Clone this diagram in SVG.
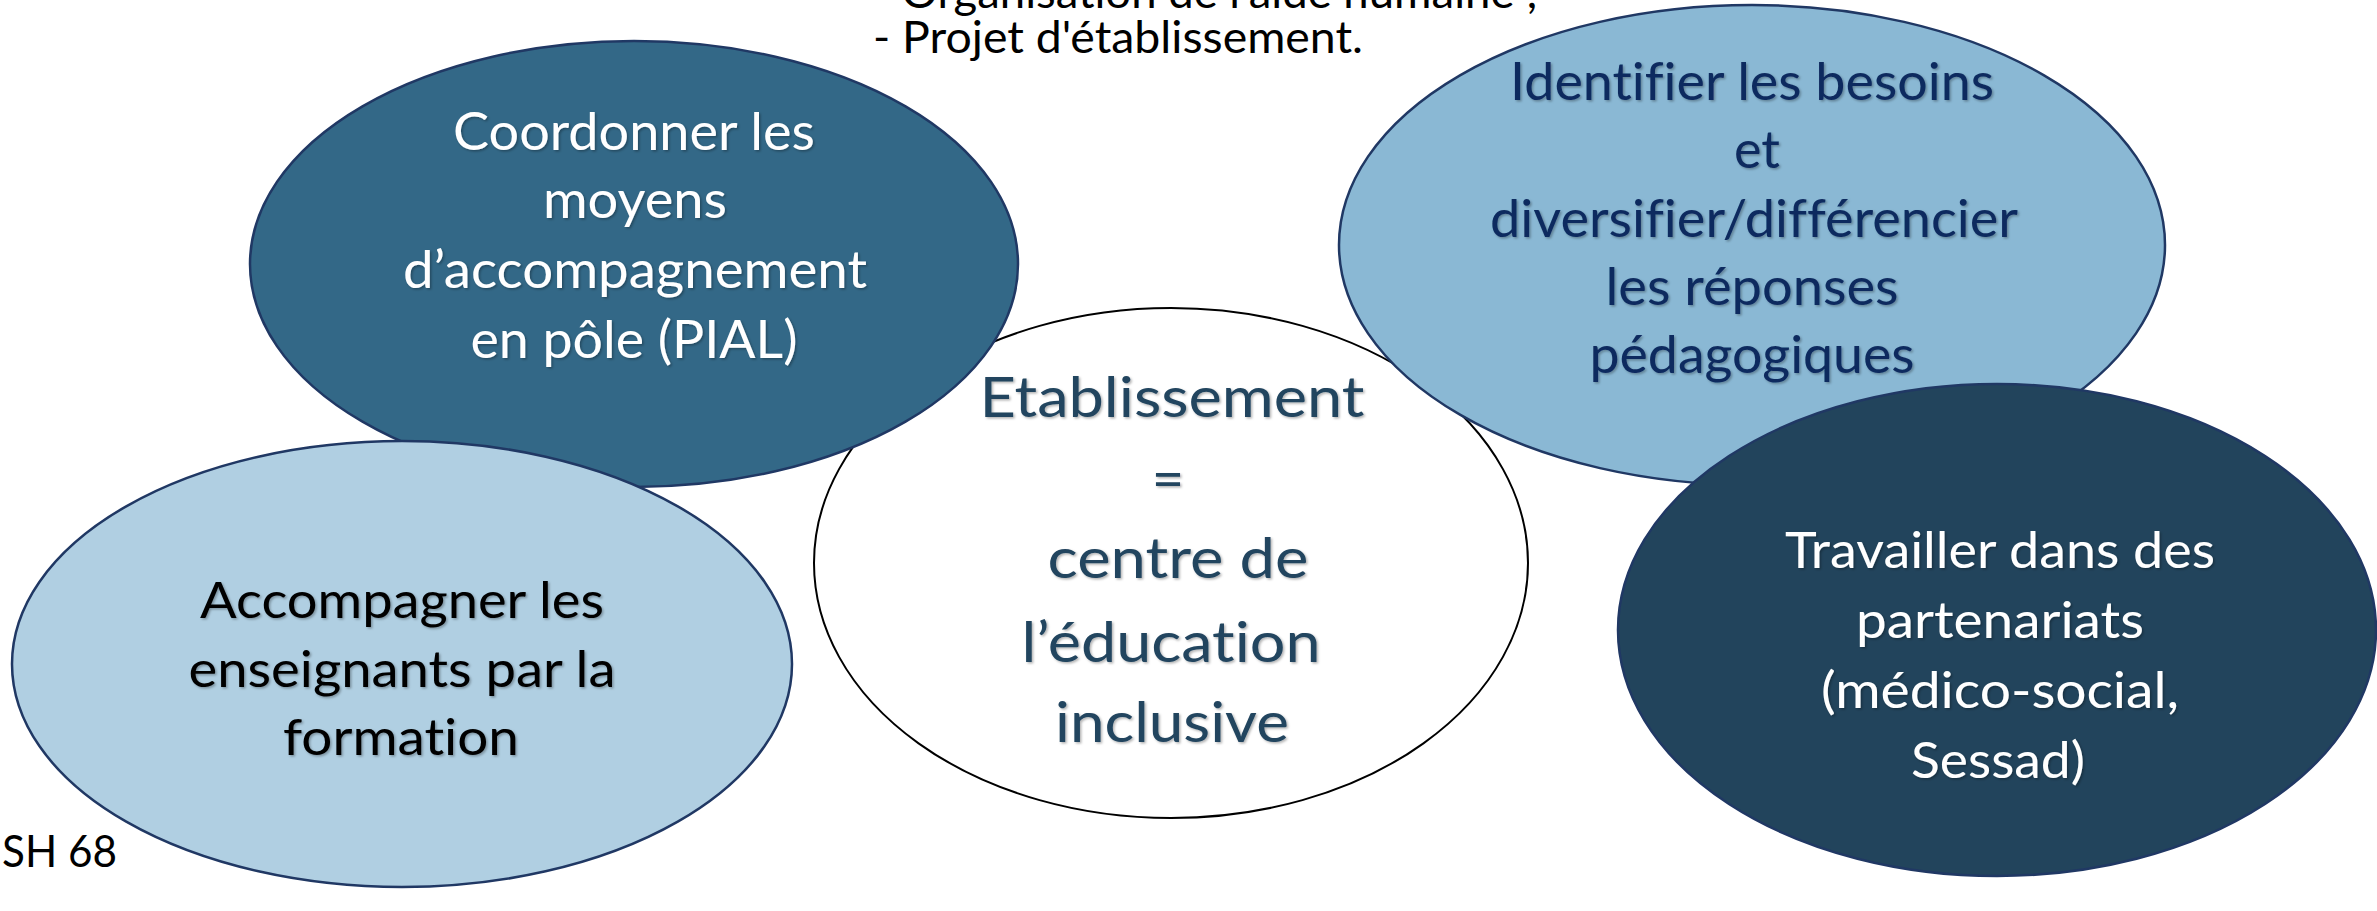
<svg xmlns="http://www.w3.org/2000/svg" width="2377" height="911" viewBox="0 0 2377 911">
<style>
  text { font-family: Lato, "Open Sans", "Liberation Sans", sans-serif; font-variant-ligatures: none; font-feature-settings: "liga" 0, "clig" 0, "dlig" 0; }
  .node-outline { stroke: #203864; stroke-width: 2.5; }
  .c { text-anchor: middle; filter: url(#ts); }
  .t52 { font-size: 52px; }
  .t56 { font-size: 56px; }
  .t50 { font-size: 51px; }
  .plain { font-size: 45px; fill: #000; }
</style>
<defs>
  <filter id="ts" x="-10%" y="-30%" width="120%" height="160%">
    <feDropShadow dx="1.5" dy="1.5" stdDeviation="1.3" flood-color="#000" flood-opacity="0.3"/>
  </filter>
</defs>
<rect width="2377" height="911" fill="#fff"/>

<g id="connectors"></g>

<g id="note">
  <text class="plain" x="873" y="8" textLength="665" lengthAdjust="spacingAndGlyphs">- Organisation de l'aide humaine ;</text>
  <text class="plain" x="873" y="53" textLength="490" lengthAdjust="spacingAndGlyphs">- Projet d'établissement.</text>
</g>

<g id="node-etablissement">
  <ellipse cx="1171" cy="563" rx="357" ry="255" fill="#fff" stroke="#000" stroke-width="2"/>
  <g class="c t56" fill="#21445E">
    <text x="1172" y="417" textLength="385" lengthAdjust="spacingAndGlyphs">Etablissement</text>
    <text x="1168" y="498">=</text>
    <text x="1178" y="578" textLength="261" lengthAdjust="spacingAndGlyphs">centre de</text>
    <text x="1171" y="662" textLength="299" lengthAdjust="spacingAndGlyphs">l’éducation</text>
    <text x="1172" y="742" textLength="234" lengthAdjust="spacingAndGlyphs">inclusive</text>
  </g>
</g>

<g id="node-coordonner">
  <ellipse class="node-outline" cx="634" cy="264" rx="384" ry="223" fill="#336887"/>
  <g class="c t52" fill="#fff">
    <text x="634" y="150" textLength="362" lengthAdjust="spacingAndGlyphs">Coordonner les</text>
    <text x="635" y="218" textLength="184" lengthAdjust="spacingAndGlyphs">moyens</text>
    <text x="635" y="288" textLength="464" lengthAdjust="spacingAndGlyphs">d’accompagnement</text>
    <text x="634" y="358" textLength="327" lengthAdjust="spacingAndGlyphs">en pôle (PIAL)</text>
  </g>
</g>

<g id="node-accompagner">
  <ellipse class="node-outline" cx="402" cy="664" rx="390" ry="223" fill="#B0CFE2"/>
  <g class="c t50" fill="#000">
    <text x="402" y="618" textLength="404" lengthAdjust="spacingAndGlyphs">Accompagner les</text>
    <text x="402" y="687" textLength="427" lengthAdjust="spacingAndGlyphs">enseignants par la</text>
    <text x="401" y="755" textLength="236" lengthAdjust="spacingAndGlyphs">formation</text>
  </g>
</g>

<g id="node-identifier">
  <ellipse class="node-outline" cx="1752" cy="245" rx="413" ry="240" fill="#8AB8D4"/>
  <g class="c t52" fill="#0C2A5E">
    <text x="1752" y="100" textLength="484" lengthAdjust="spacingAndGlyphs">Identifier les besoins</text>
    <text x="1757" y="168">et</text>
    <text x="1754" y="237" textLength="528" lengthAdjust="spacingAndGlyphs">diversifier/différencier</text>
    <text x="1752" y="305" textLength="293" lengthAdjust="spacingAndGlyphs">les réponses</text>
    <text x="1752" y="373" textLength="325" lengthAdjust="spacingAndGlyphs">pédagogiques</text>
  </g>
</g>

<g id="node-travailler">
  <ellipse class="node-outline" cx="1997" cy="630" rx="379" ry="246" fill="#22445C"/>
  <g class="c t50" fill="#fff">
    <text x="2000" y="568" textLength="430" lengthAdjust="spacingAndGlyphs">Travailler dans des</text>
    <text x="2000" y="638" textLength="288" lengthAdjust="spacingAndGlyphs">partenariats</text>
    <text x="2000" y="708" textLength="358" lengthAdjust="spacingAndGlyphs">(médico-social,</text>
    <text x="1998" y="778" textLength="174" lengthAdjust="spacingAndGlyphs">Sessad)</text>
  </g>
</g>

<g id="footer">
  <text class="plain" x="2" y="867" textLength="115" lengthAdjust="spacingAndGlyphs">SH 68</text>
</g>
</svg>
